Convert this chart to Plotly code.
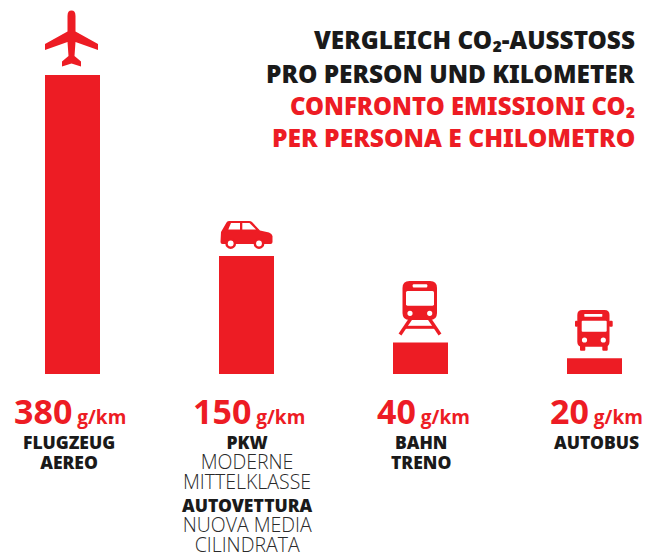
import plotly.graph_objects as go

W, H = 648, 553

categories = ["FLUGZEUG / AEREO", "PKW / AUTOVETTURA", "BAHN / TRENO", "AUTOBUS"]
values = [380, 150, 40, 20]
unit = "g/km"
title_black = ["VERGLEICH CO₂-AUSSTOSS", "PRO PERSON UND KILOMETER"]
title_red = ["CONFRONTO EMISSIONI CO₂", "PER PERSONA E CHILOMETRO"]
# each inner list is one block of lines: (text, kind)
label_blocks = [
    [[("FLUGZEUG", "b"), ("AEREO", "b")]],
    [[("PKW", "b"), ("MODERNE", "l"), ("MITTELKLASSE", "l")],
     [("AUTOVETTURA", "b"), ("NUOVA MEDIA", "l"), ("CILINDRATA", "l")]],
    [[("BAHN", "b"), ("TRENO", "b")]],
    [[("AUTOBUS", "b")]],
]

RED = "#ED1C24"
INK = "#1a1a1a"
HEAVY = "Noto Sans"

# layout geometry (pixels)
BASE = 374
PX_PER_UNIT = 299 / 380
STEP = 174
C0 = 72.5
value_cx = [70, 248.5, 423, 596.5]
label_cx = [69, 247, 421, 596]
block_top = [[428.5], [428.5, 492], [428.5], [428.5]]
title_y = [40, 73, 105, 137]
title_size = [24.3, 24.4, 23.9, 24.6]

def px(x): return x / W
def py(y): return 1 - y / H

annotations = []
for i, s in enumerate(title_black + title_red):
    annotations.append(dict(text=s, x=px(637), y=py(title_y[i]), xref="paper", yref="paper",
                            xanchor="right", yanchor="middle", showarrow=False,
                            font=dict(size=title_size[i], color=INK if i < 2 else RED, family=HEAVY, weight=900)))

for v, cx in zip(values, value_cx):
    annotations.append(dict(
        text=f"<b>{v}</b><span style='font-size:19px'><b> {unit}</b></span>",
        x=px(cx), y=py(411), xref="paper", yref="paper", xanchor="center", yanchor="middle",
        showarrow=False, font=dict(size=34, color=RED, family="Open Sans")))

BOLD_STYLE = f"font-family:{HEAVY};font-weight:900;font-size:17.5px;fill:{INK}"
LIGHT_STYLE = "font-family:Open Sans;font-weight:300;font-size:19.5px;fill:#2a2a2a"

for blocks, cx, tops in zip(label_blocks, label_cx, block_top):
    for block, top in zip(blocks, tops):
        body = "<br>".join(f"<span style='{BOLD_STYLE if k == 'b' else LIGHT_STYLE}'>{s}</span>" for s, k in block)
        annotations.append(dict(text=body, x=px(cx), y=py(top), xref="paper", yref="paper",
                                xanchor="center", yanchor="top", showarrow=False, align="center",
                                borderpad=0, font=dict(size=15.4, color=INK, family=HEAVY)))

def poly(cmds):
    out = []
    for c in cmds:
        op, pts = c[0], c[1:]
        out.append(op + " ".join(f"{px(x):.5f},{py(y):.5f}" for x, y in pts))
    return " ".join(out) + " Z"

def shape_path(cmds, color=RED):
    return dict(type="path", xref="paper", yref="paper", path=poly(cmds),
                fillcolor=color, line=dict(width=0), layer="above")

def rrect(x0, y0, x1, y1, r, color=RED):
    return shape_path([
        ("M", (x0 + r, y0)), ("L", (x1 - r, y0)), ("Q", (x1, y0), (x1, y0 + r)),
        ("L", (x1, y1 - r)), ("Q", (x1, y1), (x1 - r, y1)), ("L", (x0 + r, y1)),
        ("Q", (x0, y1), (x0, y1 - r)), ("L", (x0, y0 + r)), ("Q", (x0, y0), (x0 + r, y0))], color)

def circle(cx, cy, r, color):
    return dict(type="circle", xref="paper", yref="paper",
                x0=px(cx - r), x1=px(cx + r), y0=py(cy + r), y1=py(cy - r),
                fillcolor=color, line=dict(width=0), layer="above")

def seg(x0, y0, x1, y1, w):
    return dict(type="line", xref="paper", yref="paper", x0=px(x0), y0=py(y0), x1=px(x1), y1=py(y1),
                line=dict(color=RED, width=w), layer="above")

shapes = []
# plane
shapes.append(shape_path([
    ("M", (67.5, 16)), ("Q", (67.5, 10.5), (71.5, 10.5)), ("Q", (75.5, 10.5), (75.5, 16)),
    ("L", (75.5, 31.5)), ("L", (98, 44)), ("L", (98, 50)), ("L", (75.5, 42)), ("L", (74.5, 56)),
    ("L", (81, 61.5)), ("L", (81, 66.5)), ("L", (71.5, 63.5)), ("L", (62, 66.5)), ("L", (62, 61.5)),
    ("L", (68.5, 56)), ("L", (67.5, 42)), ("L", (45, 50)), ("L", (45, 44)), ("L", (67.5, 31.5))]))
# car
shapes.append(shape_path([
    ("M", (221, 232)), ("L", (226.5, 222.5)), ("Q", (227.5, 221), (229.5, 221)), ("L", (249, 221)),
    ("Q", (251, 221), (252, 222)), ("L", (260, 230.5)), ("L", (269, 232.5)), ("Q", (272, 233.5), (272.5, 236)),
    ("L", (272.5, 242)), ("Q", (272.5, 244), (270.5, 244)), ("L", (222.5, 244)), ("Q", (220.5, 244), (220.5, 242))]))
shapes.append(shape_path([("M", (228.3, 229.5)), ("L", (231, 223)), ("L", (240, 223)), ("L", (240, 229.5))], "white"))
shapes.append(shape_path([("M", (242.3, 223)), ("L", (249.5, 223)), ("L", (256, 229.5)), ("L", (242.3, 229.5))], "white"))
for cx in (230.7, 259):
    shapes.append(circle(cx, 243.5, 5.4, RED))
    shapes.append(circle(cx, 243.5, 2.9, "white"))
# train
shapes.append(rrect(402.5, 281, 437, 320, 7))
shapes.append(rrect(412.7, 284.2, 427.3, 287.4, 1, "white"))
shapes.append(rrect(406, 291, 434, 305.7, 1.5, "white"))
for cx in (410, 429.7):
    shapes.append(circle(cx, 313.3, 2.6, "white"))
shapes.append(seg(410.5, 319, 400, 334.5, 3.4))
shapes.append(seg(429.5, 319, 440, 334.5, 3.4))
shapes.append(seg(405, 327.3, 435, 327.3, 3))
# bus
shapes.append(rrect(577.3, 310, 609.5, 346.7, 5))
shapes.append(rrect(575, 320.7, 578, 326.7, 1))
shapes.append(rrect(609, 320.7, 612.7, 326.7, 1))
shapes.append(rrect(580, 344, 585.3, 350.7, 1))
shapes.append(rrect(602.3, 344, 607.7, 350.7, 1))
shapes.append(rrect(584.3, 314, 602.3, 316.7, 0.5, "white"))
shapes.append(rrect(581.7, 320.7, 606.7, 331.7, 1, "white"))
for cx in (584.5, 603.3):
    shapes.append(circle(cx, 340, 2.6, "white"))

fig = go.Figure(go.Bar(x=categories, y=values, width=55 / STEP, marker=dict(color=RED, line=dict(width=0)),
                       hoverinfo="skip"))
fig.update_layout(
    width=W, height=H, margin=dict(l=0, r=0, t=0, b=0), paper_bgcolor="white", plot_bgcolor="white",
    showlegend=False, annotations=annotations, shapes=shapes,
    xaxis=dict(type="category", categoryorder="array", categoryarray=categories,
               range=[-C0 / STEP, (W - C0) / STEP], visible=False, fixedrange=True),
    yaxis=dict(range=[-(H - BASE) / PX_PER_UNIT, BASE / PX_PER_UNIT], visible=False, fixedrange=True),
)
fig.write_html("out.html", config=dict(displayModeBar=False),
               post_script="document.body.style.margin='0';document.documentElement.style.overflow='hidden';")
